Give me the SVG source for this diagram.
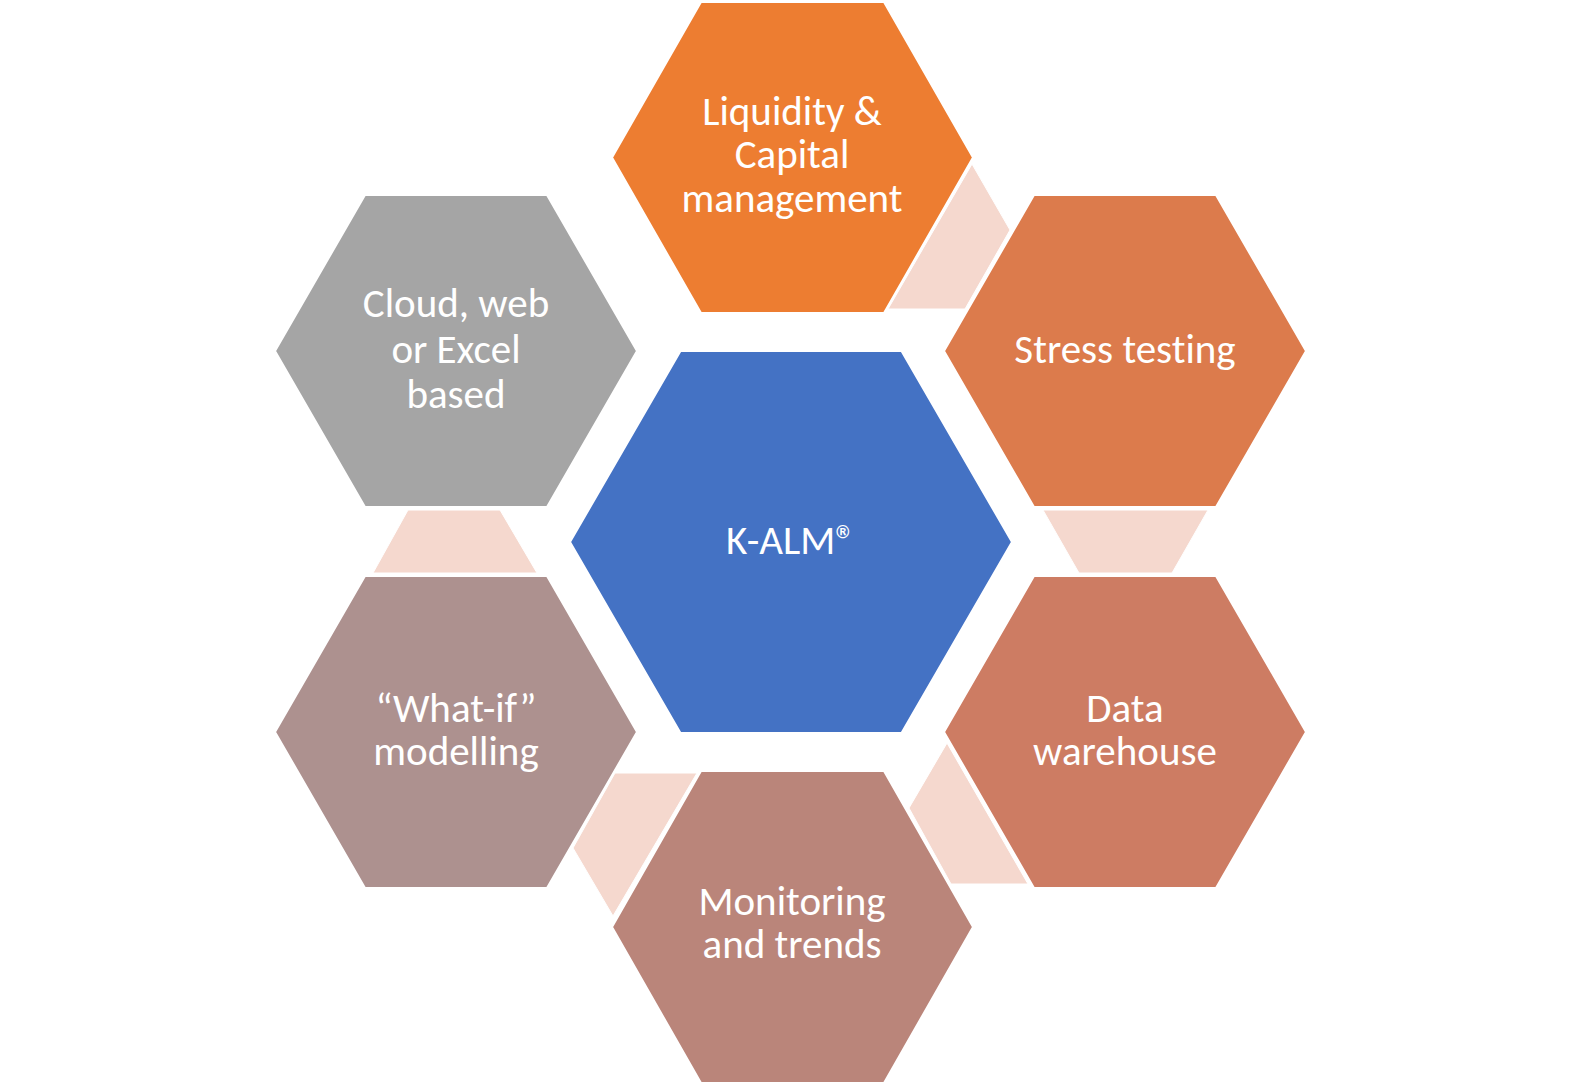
<svg xmlns="http://www.w3.org/2000/svg" width="1581" height="1085" viewBox="0 0 1581 1085">
<style>
.hex{stroke:#ffffff;stroke-width:2;}
.pink{fill:#F5D8CE;stroke:#ffffff;stroke-width:1;}
.lbl{font-family:Carlito,Calibri,Lato,"Liberation Sans",sans-serif;font-size:41px;fill:#ffffff;text-anchor:middle;font-variant-ligatures:none;}
</style>
<rect width="1581" height="1085" fill="#ffffff"/>
<g id="connectors">
<polygon class="pink" points="972,164 1010,230 965,309 888,309"/>
<polygon class="pink" points="1043,510 1208,510 1172,573 1079,573"/>
<polygon class="pink" points="947,743 909,808 951,884 1028,884"/>
<polygon class="pink" points="615,773 697,773 613,916 573,848"/>
<polygon class="pink" points="408,510 500,510 537,573 373,573"/>
</g>
<g id="node-liquidity">
<polygon class="hex" fill="#ED7D31" points="612,157.5 701,2 884,2 973,157.5 884,313 701,313"/>
<text class="lbl" x="792" y="125">Liquidity &amp;</text>
<text class="lbl" x="792" y="168">Capital</text>
<text class="lbl" x="792" y="212">management</text>
</g>
<g id="node-stress">
<polygon class="hex" fill="#DC7B4C" points="944,351 1034,195 1216,195 1306,351 1216,507 1034,507"/>
<text class="lbl" x="1125" y="363">Stress testing</text>
</g>
<g id="node-data">
<polygon class="hex" fill="#CD7C63" points="944,732 1034,576 1216,576 1306,732 1216,888 1034,888"/>
<text class="lbl" x="1125" y="722">Data</text>
<text class="lbl" x="1125" y="765">warehouse</text>
</g>
<g id="node-monitoring">
<polygon class="hex" fill="#BA857A" points="612,927 701,771 884,771 973,927 884,1083 701,1083"/>
<text class="lbl" x="792" y="915">Monitoring</text>
<text class="lbl" x="792" y="958">and trends</text>
</g>
<g id="node-whatif">
<polygon class="hex" fill="#AD918F" points="275,732 365,576 547,576 637,732 547,888 365,888"/>
<text class="lbl" x="456" y="722">“What-if”</text>
<text class="lbl" x="456" y="765">modelling</text>
</g>
<g id="node-cloud">
<polygon class="hex" fill="#A5A5A5" points="275,351 365,195 547,195 637,351 547,507 365,507"/>
<text class="lbl" x="456" y="317">Cloud, web</text>
<text class="lbl" x="456" y="363">or Excel</text>
<text class="lbl" x="456" y="408">based</text>
</g>
<g id="node-center">
<polygon class="hex" fill="#4472C4" points="570,542 680.5,351 901.5,351 1012,542 901.5,733 680.5,733"/>
<text class="lbl" x="791" y="554">K-ALM®</text>
</g>
</svg>
